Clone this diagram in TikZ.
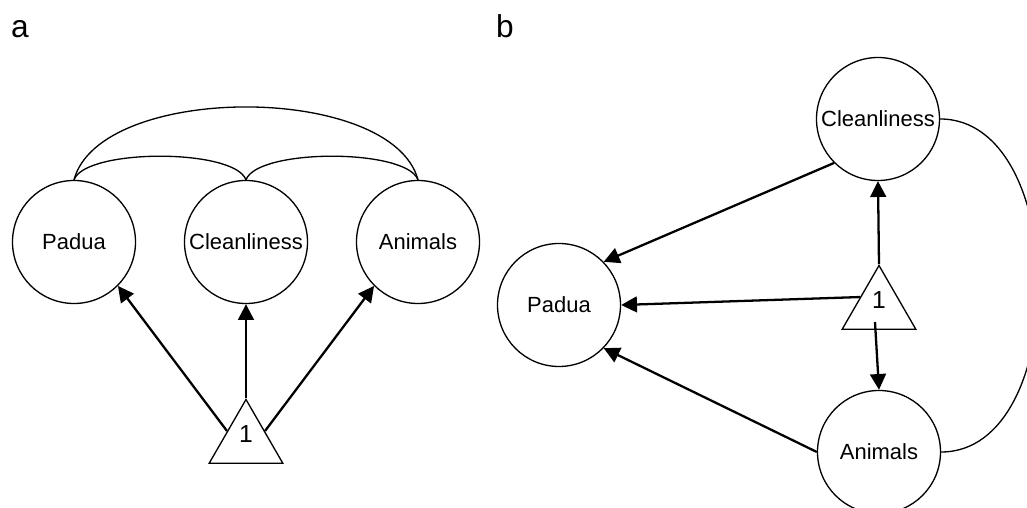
\documentclass[tikz,border=0pt]{standalone}
\usepackage{fontspec}
\setmainfont{Liberation Sans}
\usetikzlibrary{arrows.meta, shapes.geometric}

\begin{document}
\begin{tikzpicture}[>={Triangle[length=9pt, width=9pt]},
      lv/.style={draw, circle, line width=0.75pt, minimum size=2.46cm, inner sep=0pt, font=\fontsize{12.5}{14}\selectfont},
      cst/.style={draw, regular polygon, regular polygon sides=3, line width=0.75pt, minimum size=1.7cm, inner sep=0pt},
      num/.style={yshift=0.16cm, inner sep=0pt, font=\fontsize{14}{16}\selectfont},
      arr/.style={->, line width=1.3pt},
      cov/.style={line width=0.75pt},
      tag/.style={font=\fontsize{18}{20}\selectfont, anchor=base}]

    \useasboundingbox (0, 0) rectangle (20.54, 10.16);

    % panel a
    \node[tag] (taga) at (0.4, 9.4) {a};
    \node[lv] (pa) at (1.48, 5.32) {Padua};
    \node[lv] (ca) at (4.92, 5.32) {Cleanliness};
    \node[lv] (aa) at (8.36, 5.32) {Animals};
    \node[cst, label={[num]center:1}] (ta) at (4.92, 1.32) {};

    \draw[cov] (pa.north) to[out=70, in=110, looseness=0.5] (ca.north);
    \draw[cov] (ca.north) to[out=70, in=110, looseness=0.5] (aa.north);
    \draw[cov] (pa.north) to[out=75, in=105, looseness=0.75] (aa.north);

    \draw[arr] (ta.corner 1) -- (ca.south);
    \draw[arr] (ta.side 1) -- (pa.-45);
    \draw[arr] (ta.side 3) -- (aa.225);

    % panel b
    \node[tag] (tagb) at (10.1, 9.4) {b};
    \node[lv] (pb) at (11.18, 4.06) {Padua};
    \node[lv] (cb) at (17.56, 7.78) {Cleanliness};
    \node[lv] (ab) at (17.58, 1.12) {Animals};
    \node[cst, label={[num]center:1}] (tb) at (17.58, 4.0) {};

    \draw[arr] (tb.corner 1) -- (cb.south);
    \draw[arr] ([shift={(-0.08,-0.28)}]tb.center) -- (ab.north);
    \draw[arr] (tb.side 1) -- (pb.east);
    \draw[arr] (cb.225) -- (pb.44);
    \draw[arr] (ab.west) -- (pb.-44);

    \draw[cov] (cb.east) to[out=0, in=0] (ab.east);

\end{tikzpicture}
\end{document}
